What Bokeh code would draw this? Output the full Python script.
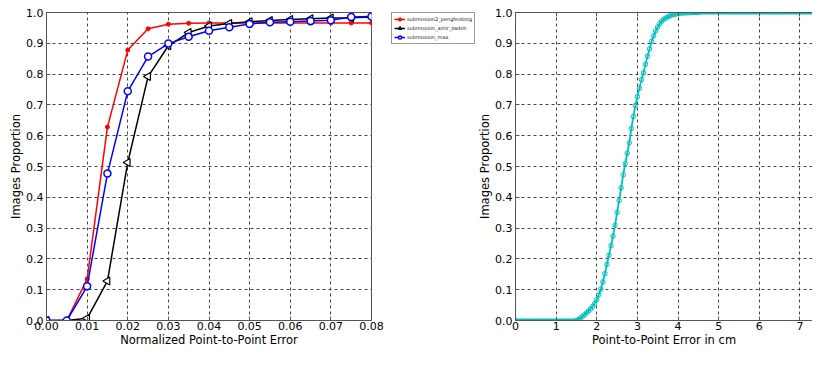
import math
from bokeh.plotting import figure
from bokeh.layouts import row
from bokeh.models import Legend, LegendItem, LinearAxis, FixedTicker, NumeralTickFormatter, Range1d
from bokeh.embed import file_html
from bokeh.resources import INLINE

# ---- left chart data ----
err_x = [0.0, 0.005, 0.01, 0.015, 0.02, 0.025, 0.03, 0.035, 0.04, 0.045,
         0.05, 0.055, 0.06, 0.065, 0.07, 0.075, 0.08]
pengfeidong = [0.0, 0.0, 0.135, 0.628, 0.878, 0.947, 0.962, 0.965, 0.966, 0.966,
               0.966, 0.966, 0.966, 0.966, 0.966, 0.966, 0.966]
amir_zadeh = [0.0, 0.0, 0.007, 0.128, 0.513, 0.792, 0.892, 0.935, 0.956, 0.964,
              0.970, 0.974, 0.977, 0.980, 0.982, 0.983, 0.985]
max_sub = [0.0, 0.0, 0.111, 0.477, 0.744, 0.857, 0.899, 0.921, 0.941, 0.952,
           0.963, 0.968, 0.970, 0.972, 0.975, 0.985, 0.987]
series_names = ["submission2_pengfeidong", "submission_amir_zadeh", "submission_max"]
left_xticks = [0.0, 0.01, 0.02, 0.03, 0.04, 0.05, 0.06, 0.07, 0.08]
yticks = [0.0, 0.1, 0.2, 0.3, 0.4, 0.5, 0.6, 0.7, 0.8, 0.9, 1.0]

# ---- right chart data ----
cm_x = [0.0, 1.50, 1.55, 1.60, 1.65, 1.70, 1.75, 1.80, 1.85, 1.90, 1.95,
        2.00, 2.05, 2.10, 2.15, 2.20, 2.25, 2.30, 2.35, 2.40, 2.45,
        2.50, 2.55, 2.60, 2.65, 2.70, 2.75, 2.80, 2.85, 2.90, 2.95,
        3.00, 3.05, 3.10, 3.15, 3.20, 3.25, 3.30, 3.35, 3.40, 3.45,
        3.50, 3.55, 3.60, 3.65, 3.70, 3.75, 3.80, 3.85, 3.90, 3.95,
        4.00, 4.05, 4.10, 4.15, 4.20, 4.25, 4.30, 4.35, 4.40, 4.45, 4.50, 7.70]
cm_y = [0.0, 0.0, 0.003, 0.008, 0.013, 0.019, 0.025, 0.031, 0.038, 0.046, 0.056,
        0.068, 0.084, 0.102, 0.125, 0.152, 0.182, 0.212, 0.243, 0.274, 0.309,
        0.351, 0.390, 0.431, 0.473, 0.509, 0.543, 0.577, 0.623, 0.662, 0.698,
        0.727, 0.754, 0.782, 0.804, 0.832, 0.858, 0.882, 0.906, 0.924, 0.940,
        0.953, 0.964, 0.972, 0.978, 0.982, 0.986, 0.989, 0.992, 0.994, 0.995,
        0.997, 0.998, 0.998, 0.999, 0.999, 0.999, 1.0, 1.0, 1.0, 1.0, 1.0, 1.0]
right_xticks = [0, 1, 2, 3, 4, 5, 6, 7]

FONT = "DejaVu Sans"
GRID = "#444444"
SPINE = "#555555"
CYAN = "#00bfbf"
H = 351


def style(p, xticks, xfmt):
    for ax in p.xaxis + p.yaxis:
        ax.major_label_text_font = FONT
        ax.major_label_text_font_size = "11px"
        ax.major_label_text_color = "black"
        ax.axis_label_text_font = FONT
        ax.axis_label_text_font_size = "11.5px"
        ax.axis_label_text_font_style = "normal"
        ax.axis_label_text_color = "black"
        ax.major_tick_in = 4
        ax.major_tick_out = 0
        ax.minor_tick_in = 0
        ax.minor_tick_out = 0
        ax.axis_line_color = SPINE
        ax.major_tick_line_color = SPINE
    p.xaxis.ticker = FixedTicker(ticks=xticks)
    p.yaxis.ticker = FixedTicker(ticks=yticks)
    p.xaxis.formatter = NumeralTickFormatter(format=xfmt)
    p.yaxis.formatter = NumeralTickFormatter(format="0.0")
    p.xaxis.major_label_standoff = 1
    p.yaxis.major_label_standoff = 3
    p.xaxis.axis_label_standoff = 0
    p.yaxis.axis_label_standoff = 0
    p.grid.grid_line_color = GRID
    p.grid.grid_line_dash = "3 3"
    p.grid.grid_line_width = 1
    p.xgrid.ticker = FixedTicker(ticks=xticks)
    p.ygrid.ticker = FixedTicker(ticks=yticks)
    p.background_fill_color = "white"
    p.border_fill_color = "white"


def deco_axis(p, side, ticks):
    ax = LinearAxis(ticker=FixedTicker(ticks=ticks),
                    major_label_text_font_size="0px",
                    major_label_standoff=0,
                    major_tick_in=4, major_tick_out=0,
                    minor_tick_in=0, minor_tick_out=0,
                    axis_line_color=SPINE, major_tick_line_color=SPINE)
    p.add_layout(ax, side)


RED = dict(line_color="#ff0000", line_width=1.5)
RED_M = dict(marker="circle", size=4, fill_color="#ff0000", line_color="#ff0000")
BLK = dict(line_color="black", line_width=1.5)
BLK_M = dict(marker="triangle", size=8, angle=math.pi / 2,
             fill_color="white", line_color="black", line_width=1.2)
BLU = dict(line_color="#0000ff", line_width=1.5)
BLU_M = dict(marker="circle", size=7, fill_color="white",
             line_color="#0000ff", line_width=1.5)
series = [pengfeidong, amir_zadeh, max_sub]

# ---------------- left figure ----------------
p1 = figure(width=385, height=H,
            x_range=Range1d(0, 0.08), y_range=Range1d(0, 1.0),
            output_backend="svg", toolbar_location=None,
            min_border_left=46, min_border_top=8, min_border_bottom=31,
            min_border_right=14,
            x_axis_label="Normalized Point-to-Point Error",
            y_axis_label="Images Proportion")
p1.outline_line_color = SPINE
style(p1, left_xticks, "0.00")

for ys, ls, ms in zip(series, [RED, BLK, BLU], [RED_M, BLK_M, BLU_M]):
    p1.line(err_x, ys, **ls)
    p1.scatter(err_x, ys, **ms)

# ---------------- legend panel (outside the left axes) ----------------
p3 = figure(width=90, height=H, x_axis_type=None, y_axis_type=None,
            x_range=Range1d(-2, -1), y_range=Range1d(0, 1),
            output_backend="svg", toolbar_location=None,
            min_border_left=6, min_border_top=12, min_border_bottom=0,
            min_border_right=0)
p3.outline_line_color = None
p3.grid.visible = False
items = []
for name, ys, ls, ms in zip(series_names, series, [RED, BLK, BLU], [RED_M, BLK_M, BLU_M]):
    rl = p3.line(err_x, ys, **ls)
    rm = p3.scatter(err_x, ys, **ms)
    items.append(LegendItem(label=name, renderers=[rl, rm]))
legend = Legend(items=items, location="top_left")
legend.label_text_font = FONT
legend.label_text_font_size = "5px"
legend.label_text_color = "#222222"
legend.glyph_width = 11
legend.glyph_height = 8
legend.label_height = 8
legend.label_standoff = 2
legend.spacing = 1
legend.padding = 2
legend.margin = 0
legend.border_line_color = "#333333"
legend.border_line_width = 1
legend.background_fill_color = "white"
p3.add_layout(legend)

# ---------------- right figure ----------------
p2 = figure(width=337, height=H,
            x_range=Range1d(0, 7.31), y_range=Range1d(0, 1.0),
            output_backend="svg", toolbar_location=None,
            min_border_left=40, min_border_top=11, min_border_bottom=31,
            min_border_right=0,
            x_axis_label="Point-to-Point Error in cm",
            y_axis_label="Images Proportion")
p2.outline_line_color = None
style(p2, right_xticks, "0")

# flat (saturated) parts of the curve drawn thicker, as the clipped markers do
head_x = [x for x, y in zip(cm_x, cm_y) if y <= 0.0]
head_y = [y for y in cm_y if y <= 0.0]
tail_x = [x for x, y in zip(cm_x, cm_y) if y >= 1.0]
tail_y = [y for y in cm_y if y >= 1.0]
p2.line(head_x, head_y, line_color=CYAN, line_width=4)
p2.line(tail_x, tail_y, line_color=CYAN, line_width=4)
p2.line(cm_x, cm_y, line_color=CYAN, line_width=1.8)
p2.scatter(cm_x, cm_y, marker="circle", size=4.5, fill_color=None,
           line_color=CYAN, line_width=1)
deco_axis(p2, "above", right_xticks)

layout = row(p1, p3, p2)
open("out.html", "w").write(file_html(layout, INLINE))
